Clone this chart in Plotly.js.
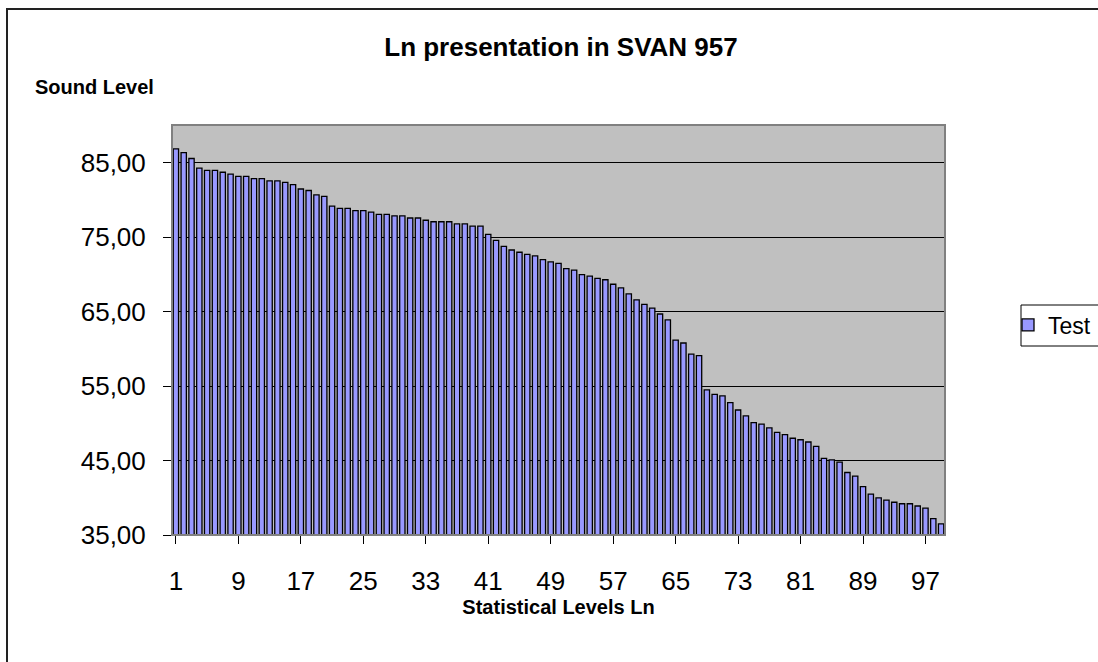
<!DOCTYPE html>
<html>
<head>
<meta charset="utf-8">
<script src="https://cdn.plot.ly/plotly-3.0.1.min.js"></script>
<style>
html,body{margin:0;padding:0;background:#fff;}
#wrap{position:relative;width:1098px;height:662px;overflow:hidden;}
#chart{width:1098px;height:662px;}
#frame{position:absolute;left:6px;top:8px;right:-10px;bottom:-10px;border-left:2px solid #222;border-top:2px solid #222;pointer-events:none;}
</style>
</head>
<body>
<div id="wrap"><div id="chart"></div><div id="frame"></div></div>
<script>
const levels = [1,2,3,4,5,6,7,8,9,10,11,12,13,14,15,16,17,18,19,20,21,22,23,24,25,26,27,28,29,30,31,32,33,34,35,36,37,38,39,40,41,42,43,44,45,46,47,48,49,50,51,52,53,54,55,56,57,58,59,60,61,62,63,64,65,66,67,68,69,70,71,72,73,74,75,76,77,78,79,80,81,82,83,84,85,86,87,88,89,90,91,92,93,94,95,96,97,98,99];
const testValues = [86.9,86.4,85.6,84.3,84.0,84.0,83.75,83.5,83.2,83.2,82.9,82.9,82.6,82.6,82.4,82.1,81.5,81.3,80.7,80.5,79.2,78.9,78.9,78.6,78.6,78.4,78.1,78.1,77.9,77.9,77.6,77.6,77.3,77.1,77.1,77.1,76.8,76.8,76.5,76.5,75.4,74.6,73.8,73.3,73.0,72.7,72.5,72.0,71.7,71.5,70.8,70.6,70.0,69.8,69.5,69.3,68.7,68.2,67.4,66.6,66.0,65.5,64.7,63.9,61.2,60.8,59.3,59.1,54.5,53.9,53.7,52.8,51.8,51.0,50.1,49.9,49.4,48.8,48.5,48.0,47.8,47.5,46.9,45.3,45.1,44.8,43.4,42.9,41.5,40.5,40.0,39.7,39.4,39.2,39.2,38.9,38.6,37.2,36.5];
const xTicks = [1,9,17,25,33,41,49,57,65,73,81,89,97];
const yTicks = [35,45,55,65,75,85];
const seriesName = 'Test';
const chartTitle = 'Ln presentation in SVAN 957';
const yTitle = 'Sound Level';
const xTitle = 'Statistical Levels Ln';

const FONT = 'Liberation Sans, Arial, sans-serif';

const trace = {
  type: 'bar',
  x: levels,
  y: testValues,
  name: seriesName,
  width: 0.68,
  marker: {color: '#9999FF', line: {color: '#000000', width: 1.3}},
  showlegend: true
};

const layout = {
  width: 1098, height: 662,
  margin: {l: 172, r: 153, t: 125, b: 127, pad: 0},
  paper_bgcolor: '#ffffff',
  plot_bgcolor: '#C0C0C0',
  separators: ',.',
  font: {family: FONT, color: '#000'},
  title: {text: '<b>' + chartTitle + '</b>', font: {family: FONT, size: 26, color: '#000'},
          x: 561/1098, xref: 'container', xanchor: 'center', y: 1 - 47/662, yref: 'container', yanchor: 'middle'},
  xaxis: {
    range: [0.5, 99.5], tickmode: 'array', tickvals: xTicks, ticktext: xTicks.map(String),
    ticks: 'outside', ticklen: 8, tickcolor: '#000', tickwidth: 1,
    showline: true, linecolor: '#000', linewidth: 1, showgrid: false, zeroline: false,
    tickfont: {family: FONT, size: 26, color: '#000'}, ticklabelstandoff: 15,
    title: {text: '<b>' + xTitle + '</b>', font: {family: FONT, size: 20, color: '#000'}, standoff: 4}
  },
  yaxis: {
    range: [35, 90.1], tickmode: 'array', tickvals: yTicks, tickformat: '.2f',
    ticks: 'outside', ticklen: 8, tickcolor: '#000', tickwidth: 1,
    showline: true, linecolor: '#000', linewidth: 1,
    showgrid: true, gridcolor: '#000', gridwidth: 1, zeroline: false,
    tickfont: {family: FONT, size: 26, color: '#000'}, ticklabelstandoff: 12
  },
  legend: {
    x: 1008/1098, xref: 'container', xanchor: 'left',
    y: 1 - 325/662, yref: 'container', yanchor: 'middle',
    bgcolor: 'rgba(0,0,0,0)', borderwidth: 0,
    font: {family: FONT, size: 23, color: '#000'}, itemwidth: 30
  },
  annotations: [{
    text: '<b>' + yTitle + '</b>', xref: 'paper', yref: 'paper',
    x: (33 - 172)/773, y: (535 - 87)/410, xanchor: 'left', yanchor: 'middle',
    showarrow: false, font: {family: FONT, size: 20, color: '#000'}
  }],
  shapes: [{
    type: 'rect', xref: 'paper', yref: 'paper', x0: 0, x1: 1, y0: 0, y1: 1,
    line: {color: '#808080', width: 2}, fillcolor: 'rgba(0,0,0,0)', layer: 'above'
  }, {
    type: 'rect', xref: 'paper', yref: 'paper',
    x0: (1021 - 172)/773, x1: (1110 - 172)/773,
    y0: (535 - 346)/410, y1: (535 - 305)/410,
    line: {color: '#000', width: 1}, fillcolor: '#ffffff', layer: 'below'
  }],
  bargap: 0.3
};

Plotly.newPlot('chart', [trace], layout, {displayModeBar: false, staticPlot: true});
</script>
</body>
</html>
